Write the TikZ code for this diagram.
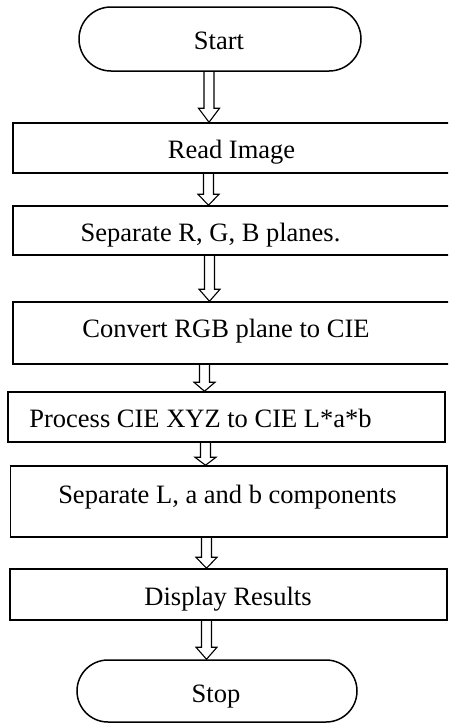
\documentclass[tikz,border=0pt]{standalone}
\usepackage{fontspec}
\setmainfont{Liberation Serif}
\usetikzlibrary{calc,shapes.misc}
\newcommand\fatarrow[3]{\draw[arw] let \p1=(#1), \p2=(#2) in
  (\x1-5pt,\y1) -- (\x1-5pt,\y2+#3pt) -- (\x1-10.5pt,\y2+#3pt) -- (\x1,\y2)
  -- (\x1+10.5pt,\y2+#3pt) -- (\x1+5pt,\y2+#3pt) -- (\x1+5pt,\y1);}
\begin{document}
\begin{tikzpicture}[x=1pt,y=-1pt,
  box/.style={draw, line width=1.5pt, inner sep=0pt, fill=white},
  term/.style={draw, rounded rectangle, line width=1.5pt, inner sep=0pt, fill=white},
  txt/.style={inner sep=0pt, anchor=base, font=\fontsize{26.5}{30}\selectfont},
  arw/.style={draw, line width=1.1pt, line join=miter}]
\useasboundingbox (0,0) rectangle (448,723);
\clip (0,0) rectangle (448,723);
\fill[white] (0,0) rectangle (448,723);
% boxes
\node[term, minimum width=282pt, minimum height=64pt] (start) at (220,39) {};
\node[box, minimum width=447pt, minimum height=50pt] (read) at (236.5,148) {};
\node[box, minimum width=447pt, minimum height=49pt] (sep) at (236.5,230.5) {};
\node[box, minimum width=447pt, minimum height=62pt] (conv) at (236.5,333) {};
\node[box, minimum width=437pt, minimum height=50pt] (proc) at (226.5,417) {};
\node[box, minimum width=436.5pt, minimum height=71pt] (sepl) at (228.75,501.5) {};
\node[box, minimum width=437pt, minimum height=51pt] (disp) at (228.5,594.5) {};
\node[term, minimum width=280pt, minimum height=62pt] (stop) at (217,691) {};
% texts
\node[txt] (startt) at (219,49) {Start};
\node[txt] (readt) at (231.5,158) {Read Image};
\node[txt] (sept) at (210.5,241) {Separate R, G, B planes.};
\node[txt] (convt) at (226,337) {Convert RGB plane to CIE};
\node[txt] (proct) at (200.5,427) {Process CIE XYZ to CIE L*a*b};
\node[txt] (seplt) at (227.5,503) {Separate L, a and b components};
\node[txt] (dispt) at (228,605) {Display Results};
\node[txt] (stopt) at (216,702) {Stop};
% arrow columns
\coordinate (c1) at (209,0);
\coordinate (c2) at (208.5,0);
\coordinate (c3) at (209.5,0);
\coordinate (c4) at (204.5,0);
\coordinate (c5) at (205.5,0);
\coordinate (c6) at (206.5,0);
\coordinate (c7) at (206.5,0);
% arrows
\fatarrow{c1 |- start.south}{c1 |- read.north}{14}
\fatarrow{c2 |- read.south}{c2 |- sep.north}{11}
\fatarrow{c3 |- sep.south}{c3 |- conv.north}{12}
\fatarrow{c4 |- conv.south}{c4 |- proc.north}{9}
\fatarrow{c5 |- proc.south}{c5 |- sepl.north}{8}
\fatarrow{c6 |- sepl.south}{c6 |- disp.north}{11}
\fatarrow{c7 |- disp.south}{c7 |- stop.north}{12}
\end{tikzpicture}
\end{document}
